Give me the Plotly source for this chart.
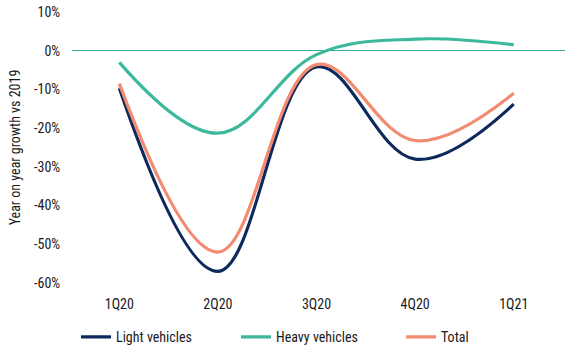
import plotly.graph_objects as go

quarters = ["1Q20", "2Q20", "3Q20", "4Q20", "1Q21"]
light = [-9.7, -57.0, -4.2, -28.0, -13.8]
heavy = [-3.0, -21.3, -1.0, 3.0, 1.5]
total = [-8.5, -52.0, -3.6, -23.2, -11.0]
y_ticks = [10, 0, -10, -20, -30, -40, -50, -60]

FONT = "Roboto Condensed, Arial Narrow, Liberation Sans, sans-serif"

series = [
    ("Light vehicles", light, "#0e2a5c", "legend"),
    ("Heavy vehicles", heavy, "#3cb89c", "legend2"),
    ("Total", total, "#f28b71", "legend3"),
]

fig = go.Figure()
for name, vals, color, lg in series:
    fig.add_trace(go.Scatter(
        x=list(range(len(quarters))), y=vals, name=name, mode="lines", legend=lg,
        line=dict(color=color, width=3.2, shape="spline", smoothing=1.1),
    ))

PLOT_L, PLOT_W = 72, 493
legend_px = {"legend": 76, "legend2": 236, "legend3": 401}
legend_cfg = {}
for key, px in legend_px.items():
    legend_cfg[key] = dict(orientation="h", x=(px - PLOT_L) / PLOT_W, xanchor="left",
                           y=-0.2, yanchor="middle", font=dict(size=14), itemwidth=30)

fig.update_layout(
    width=577, height=351,
    margin=dict(l=72, r=12, t=12, b=68, autoexpand=False),
    paper_bgcolor="white", plot_bgcolor="white",
    font=dict(family=FONT, size=14, color="#1a1a1a"),
    showlegend=True,
    **legend_cfg,
    xaxis=dict(range=[-0.48, 4.52], tickmode="array",
               tickvals=list(range(len(quarters))), ticktext=quarters,
               showgrid=False, zeroline=False, showline=False,
               ticks="outside", ticklen=8, tickcolor="rgba(0,0,0,0)"),
    yaxis=dict(range=[-60, 10], tickmode="array", tickvals=y_ticks,
               ticktext=[f"{v}%" for v in y_ticks],
               showgrid=False, zeroline=True, zerolinecolor="#3aaa9a", zerolinewidth=1,
               showline=False, ticks="outside", ticklen=8, tickcolor="rgba(0,0,0,0)",
               title=dict(text="Year on year growth vs 2019", standoff=10, font=dict(size=14))),
)

fig.write_html("out.html")
